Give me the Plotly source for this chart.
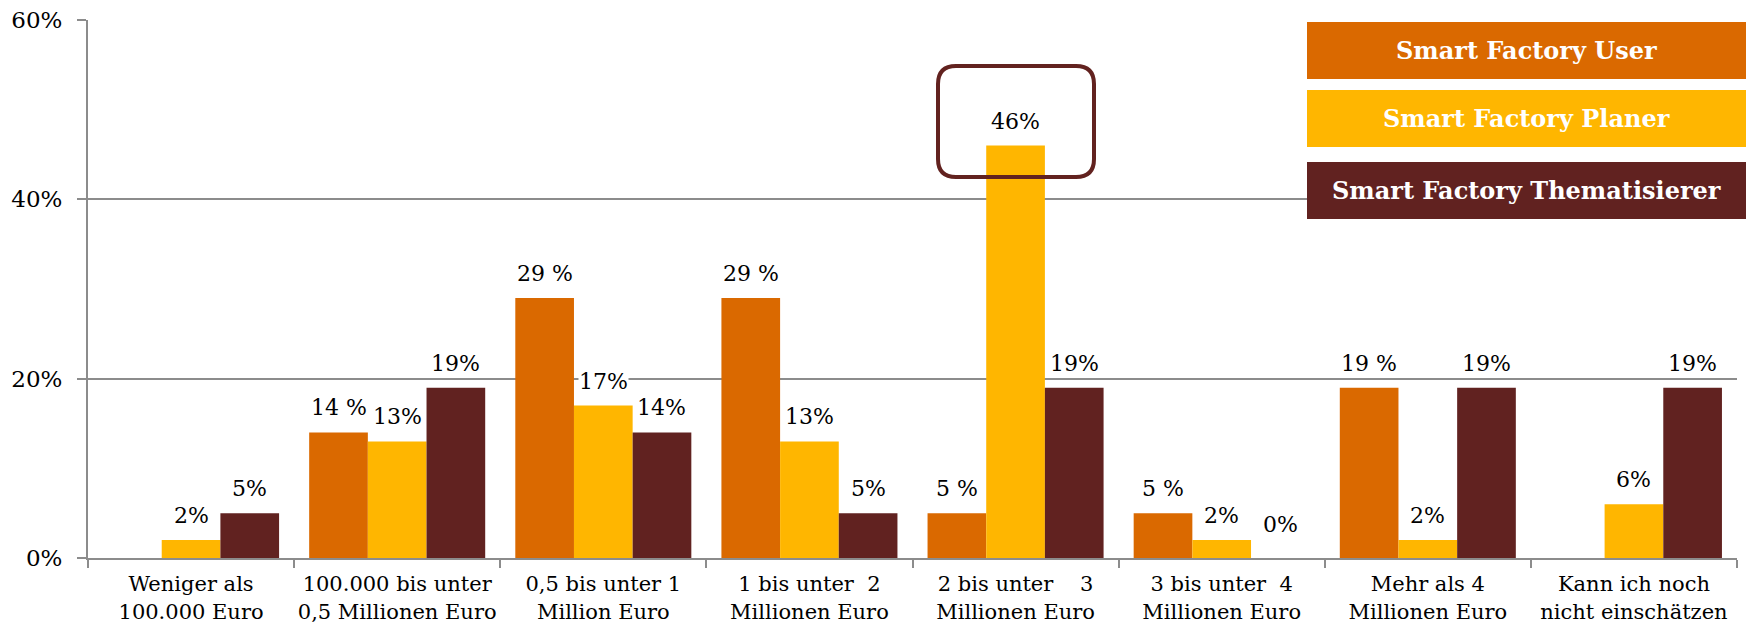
import plotly.graph_objects as go

categories = [
    "Weniger als<br>100.000 Euro",
    "100.000 bis unter<br>0,5 Millionen Euro",
    "0,5 bis unter 1<br>Million Euro",
    "1 bis unter  2<br>Millionen Euro",
    "2 bis unter    3<br>Millionen Euro",
    "3 bis unter  4<br>Millionen Euro",
    "Mehr als 4<br>Millionen Euro",
    "Kann ich noch<br>nicht einschätzen",
]
series_names = ["Smart Factory User", "Smart Factory Planer", "Smart Factory Thematisierer"]
user = [None, 14, 29, 29, 5, 5, 19, None]
planer = [2, 13, 17, 13, 46, 2, 2, 6]
themat = [5, 19, 14, 5, 19, 0, 19, 19]
user_labels = ["", "14 %", "29 %", "29 %", "5 %", "5 %", "19 %", ""]
planer_labels = ["2%", "13%", "17%", "13%", "46%", "2%", "2%", "6%"]
themat_labels = ["5%", "19%", "14%", "5%", "19%", "0%", "19%", "19%"]
y_ticks = [0, 20, 40, 60]
y_ticktext = ["0%", "20%", "40%", "60%"]

colors = ["#DA6900", "#FFB600", "#612220"]
FONT = "DejaVu Serif"

W, H = 1746, 625
L, R, T, B = 88, 9, 20, 67
PW = W - L - R
PH = H - T - B

def px(x):
    return (x - L) / PW

def py(y):
    return (H - B - y) / PH

fig = go.Figure()
all_series = [user, planer, themat]
all_labels = [user_labels, planer_labels, themat_labels]
for name, vals, col in zip(series_names, all_series, colors):
    fig.add_trace(go.Bar(name=name, x=categories, y=vals, marker_color=col,
                         marker_line_width=0, showlegend=False))

# value labels
group_w = PW / len(categories)
bar_w = group_w * (1 - 0.146) / 3
annotations = []
for si, (vals, labs) in enumerate(zip(all_series, all_labels)):
    for cat, v, lab in zip(categories, vals, labs):
        if v is None or lab == "":
            continue
        annotations.append(dict(
            x=cat, y=v, xref="x", yref="y", text=lab, showarrow=False,
            xshift=(si - 1) * bar_w, yshift=11 if v > 0 else 20, yanchor="bottom",
            bgcolor="white", borderpad=0,
            font=dict(family=FONT, size=22, color="black")))

# legend boxes
legend_y = [(22, 79), (90, 147), (162, 219)]
shapes = []
for (y0, y1), col, name in zip(legend_y, colors, series_names):
    shapes.append(dict(type="rect", xref="paper", yref="paper",
                       x0=px(1307), x1=px(1746), y0=py(y1), y1=py(y0),
                       fillcolor=col, line_width=0, layer="above"))
    annotations.append(dict(x=px((1307 + 1746) / 2), y=py((y0 + y1) / 2),
                            xref="paper", yref="paper", text="<b>" + name + "</b>",
                            showarrow=False, xanchor="center", yanchor="middle",
                            font=dict(family=FONT, size=24, color="white")))

# rounded highlight box
x0, x1, y0, y1, r = 938, 1094, 66, 177, 18
path = (f"M {px(x0 + r)} {py(y0)} L {px(x1 - r)} {py(y0)} "
        f"Q {px(x1)} {py(y0)} {px(x1)} {py(y0 + r)} "
        f"L {px(x1)} {py(y1 - r)} Q {px(x1)} {py(y1)} {px(x1 - r)} {py(y1)} "
        f"L {px(x0 + r)} {py(y1)} Q {px(x0)} {py(y1)} {px(x0)} {py(y1 - r)} "
        f"L {px(x0)} {py(y0 + r)} Q {px(x0)} {py(y0)} {px(x0 + r)} {py(y0)} Z")
shapes.append(dict(type="path", xref="paper", yref="paper", path=path,
                   line=dict(color="#62221F", width=4), layer="above"))

fig.update_layout(
    width=W, height=H,
    margin=dict(l=L, r=R, t=T, b=B, autoexpand=False),
    paper_bgcolor="white", plot_bgcolor="white",
    barmode="group", bargap=0.146, bargroupgap=0,
    annotations=annotations, shapes=shapes,
    font=dict(family=FONT, color="black"),
    xaxis=dict(type="category", tickson="boundaries", ticks="outside", ticklen=8,
               tickcolor="#8C8C8C", tickwidth=2, showline=True, linecolor="#8C8C8C",
               linewidth=2, showgrid=False, ticklabelstandoff=6, tickangle=0,
               automargin=False, tickfont=dict(family=FONT, size=21)),
    yaxis=dict(range=[0, 60], tickvals=y_ticks, ticktext=y_ticktext, ticks="outside",
               ticklen=9, tickcolor="#8C8C8C", tickwidth=2, showline=True,
               linecolor="#8C8C8C", linewidth=2, showgrid=True, gridcolor="#8C8C8C",
               gridwidth=1.5, zeroline=False, ticklabelstandoff=10, automargin=False,
               tickfont=dict(family=FONT, size=23)),
)

fig.write_html("out.html")
